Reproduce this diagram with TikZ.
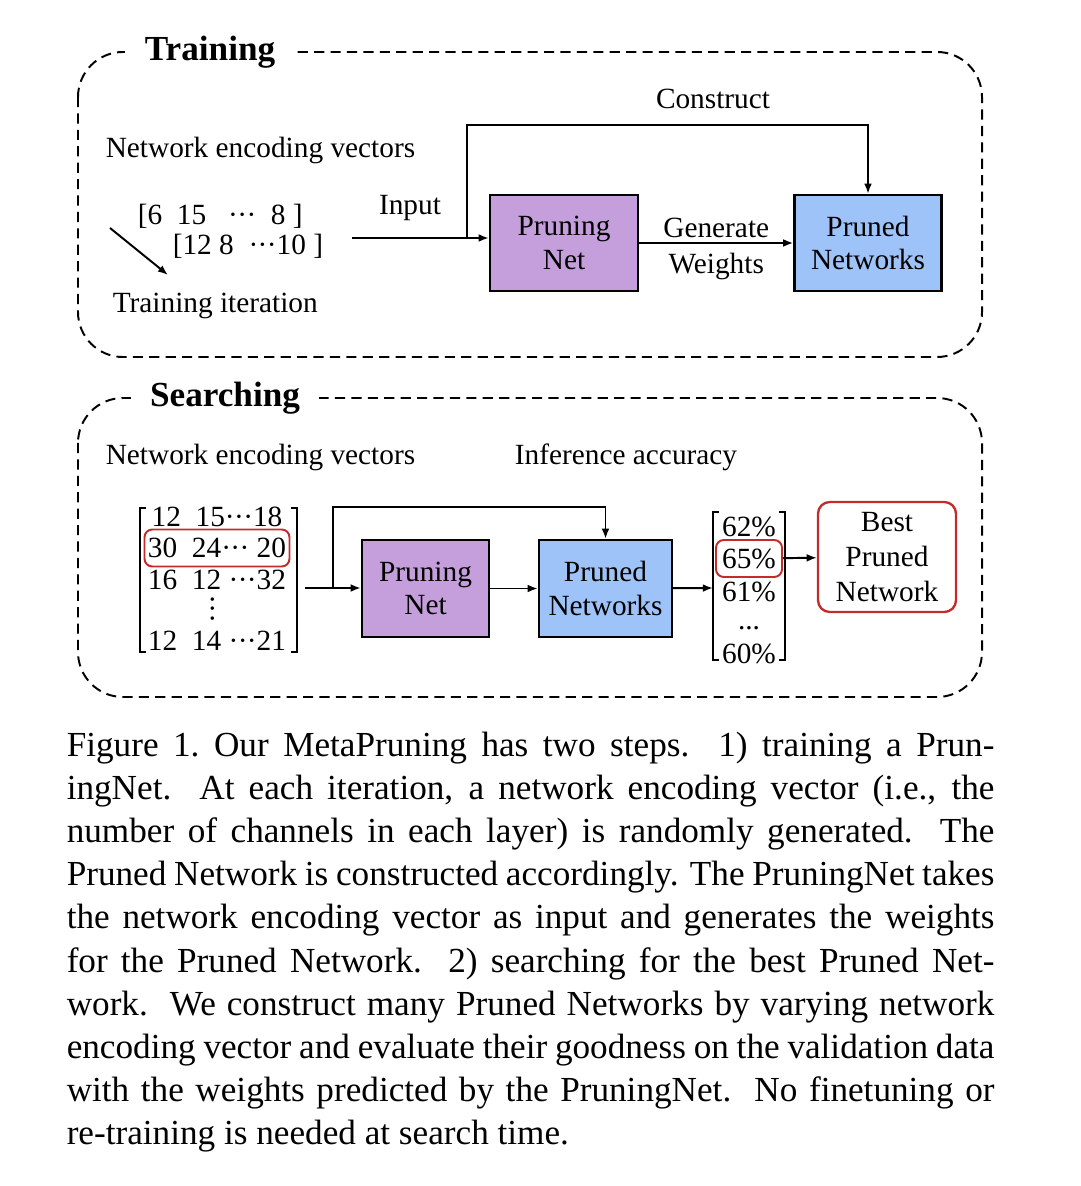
\documentclass[tikz,border=0pt]{standalone}
\usepackage{fontspec}
\setmainfont{Liberation Serif}
\usetikzlibrary{arrows.meta}
\newcommand\pxu{0.2558pt}
\newcommand\mdots{·\kern-0.02em·\kern-0.02em·}
\definecolor{pnfill}{RGB}{196,159,220}
\definecolor{prfill}{RGB}{158,195,248}
\definecolor{pickred}{RGB}{196,44,44}
\tikzset{ every node/.style={inner sep=0pt,font=\fontsize{7.5}{9}\selectfont},
  frame/.style={line width=0.5pt,dash pattern=on 2.6pt off 1.6pt,rounded corners=11.5pt},
  phase/.style={fill=white,inner xsep=5pt,inner ysep=2pt,font=\fontsize{9}{10}\selectfont\bfseries},
  netbox/.style={draw,line width=0.6pt,align=center,font=\fontsize{7.5}{8.5}\selectfont},
  pn/.style={netbox,fill=pnfill},
  pr/.style={netbox,fill=prfill},
  arr/.style={line width=0.5pt,-{Latex[length=2.6pt,width=2pt]}},
  brk/.style={line width=0.4pt},
  pick/.style={draw=pickred,line width=0.5pt,rounded corners=2pt,minimum height=37*\pxu},
  row/.style={}}

\begin{document}
\begin{tikzpicture}[x=\pxu,y=-\pxu]
\useasboundingbox (0,0) rectangle (1080,1186);
%% frames
\draw[frame] (78,52) rectangle (982,357);
\node[phase] (train) at (210,52) {Training};
\draw[frame] (78,398) rectangle (982,697);
\node[phase] (search) at (225,398) {Searching};

%% training
\node[anchor=west] (tenc) at (105,150) {Network encoding vectors};
\node[anchor=west] (tv1) at (137,216) {[6\ \ 15\ \ \ \mdots\ \ 8\ ]};
\node[anchor=west] (tv2) at (172,246) {[12\ 8\ \ \mdots10\ ]};
\coordinate (itA) at (110,228);
\coordinate (itB) at (168,275);
\draw[arr] (itA) -- (itB);
\node[anchor=west] (titer) at (112,306) {Training iteration};
\node (tinput) at (410,208) {Input};
\node (tcons) at (713,99) {Construct};
\node[pn,minimum width=148*\pxu,minimum height=96*\pxu] (tpn) at (564,243) {Pruning\\Net};
\node[pr,minimum width=147*\pxu,minimum height=96*\pxu] (tpr) at (868,243) {Pruned\\Networks};
\coordinate (tin) at (352,238);
\coordinate (tsplit) at (467,238);
\coordinate (ttop) at (467,125);
\draw[arr] (tin) -- (tin -| tpn.west);
\draw[arr] (tsplit) -- (ttop) -| (tpr.north);
\draw[arr] (tpn) -- node[above=1.2pt]{Generate} node[below=2.3pt]{Weights} (tpr);

%% searching
\node[anchor=west] (senc) at (105,457) {Network encoding vectors};
\node (sacc) at (626,457) {Inference accuracy};
\foreach \y/\name/\sty/\txt in {517/r1/row/{12\ \ 15\mdots18}, 548/r2/pick/{30\ \ 24\mdots\ 20},
    580/r3/row/{16\ \ 12\ \mdots32}, 641/r5/row/{12\ \ 14\ \mdots21}}
  \node[\sty,minimum width=145*\pxu] (\name) at (217,\y) {\txt};
\node[rotate=90] (r4) at (217,609) {\mdots};
\draw[brk] (146,508) -- (140,508) -- (140,652) -- (146,652);
\draw[brk] (291,508) -- (297,508) -- (297,652) -- (291,652);

\node[pn,minimum width=127*\pxu,minimum height=97*\pxu] (spn) at (425.5,588.5) {Pruning\\Net};
\node[pr,minimum width=133*\pxu,minimum height=97*\pxu] (spr) at (605.5,588.5) {Pruned\\Networks};
\coordinate (sin) at (305,588);
\coordinate (ssplit) at (333,588);
\coordinate (stop) at (333,507);
\draw[arr] (sin) -- (sin -| spn.west);
\draw[arr] (ssplit) -- (stop) -| (spr.north);
\draw[arr] (spn) -- (spr);

\foreach \y/\name/\txt in {527/a1/62\%, 592/a3/61\%, 654/a5/60\%}
  \node (\name) at (749,\y) {\txt};
\node[pick,minimum width=66*\pxu] (a2) at (749,558.5) {65\%};
\node (a4) at (749,628) {...};
\draw[brk] (719,512) -- (713,512) -- (713,660) -- (719,660);
\draw[brk] (779,512) -- (785,512) -- (785,660) -- (779,660);
\coordinate (accin) at (713,588);
\draw[arr] (spr) -- (accin);
\node[draw=pickred,line width=0.6pt,rounded corners=3pt,align=center,
  minimum width=138*\pxu,minimum height=110*\pxu] (best) at (887,557) {Best\\Pruned\\Network};
\draw[arr] (a2) -- (best);

%% caption
\node[anchor=north west,text width=237.3pt,align=justify,font=\fontsize{9}{11.05}\selectfont] (cap) at (66,731)
{Figure 1.\ Our MetaPruning has two steps.\ \ 1) training a Prun-\linebreak
ingNet.\ \ At each iteration, a network encoding vector (i.e., the\linebreak
number of channels in each layer) is randomly generated.\ \ The\linebreak
Pruned Network is constructed accordingly. The PruningNet takes\linebreak
the network encoding vector as input and generates the weights\linebreak
for the Pruned Network.\ \ 2) searching for the best Pruned Net-\linebreak
work.\ \ We construct many Pruned Networks by varying network\linebreak
encoding vector and evaluate their goodness on the validation data\linebreak
with the weights predicted by the PruningNet.\ \ No finetuning or\linebreak
re-training is needed at search time.};
\end{tikzpicture}
\end{document}
